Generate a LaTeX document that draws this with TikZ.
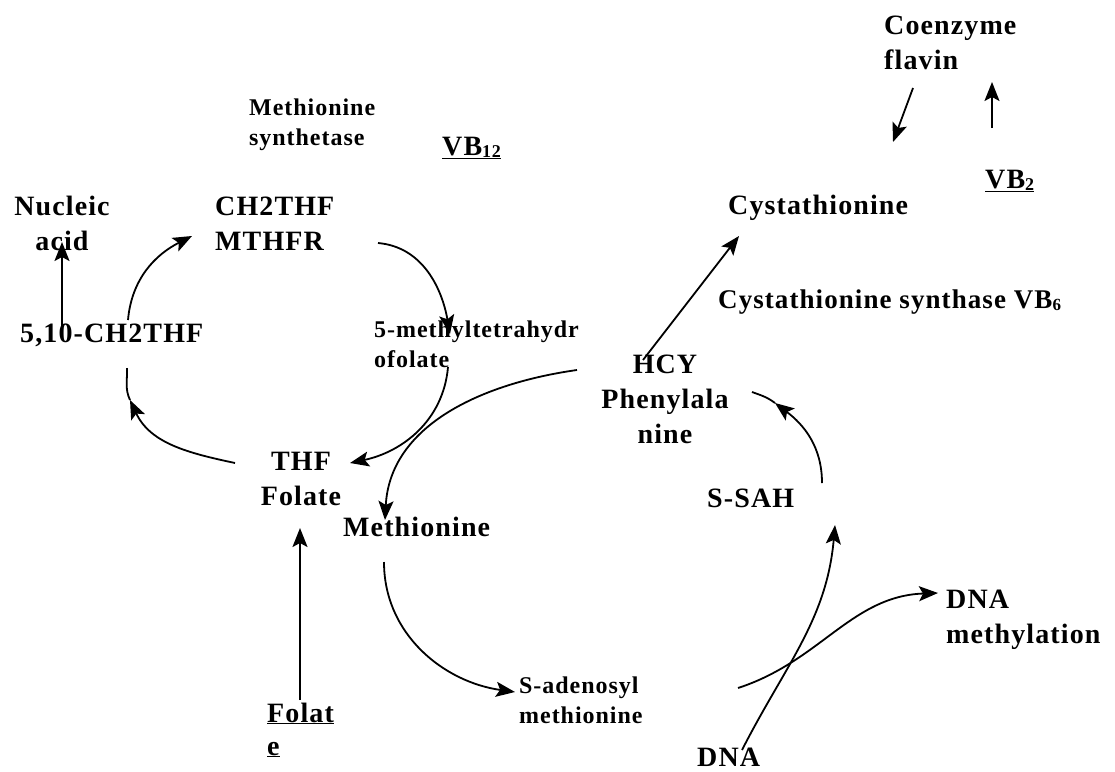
\documentclass[tikz,border=0pt]{standalone}
\usepackage{fontspec}
\setmainfont{Liberation Serif}
\newfontfamily\labfont[LetterSpace=4]{Liberation Serif}
\usetikzlibrary{arrows.meta}
\begin{document}
\begin{tikzpicture}[x=1pt,y=1pt,
  big/.style={font=\labfont\bfseries\fontsize{28}{35}\selectfont, inner sep=0pt},
  mid/.style={font=\labfont\bfseries\fontsize{27}{32}\selectfont, inner sep=0pt},
  sml/.style={font=\labfont\bfseries\fontsize{24}{30}\selectfont, inner sep=0pt},
  link/.style={line width=1.8pt},
  conn/.style={line width=1.8pt, -{Stealth[length=19pt,width=15pt,inset=4pt]}}]
\useasboundingbox (0,0) rectangle (1115,-771);

% ---- labels (multi-line nodes are anchored at the baseline of their last line) ----
\node[big,anchor=base west,align=left] (coenz) at (884,-69) {Coenzyme\\flavin};
\node[sml,anchor=base west,align=left] (msyn) at (249,-145) {Methionine\\synthetase};
\node[big,anchor=base west] (vb12) at (442,-155) {\underline{VB\raisebox{-2pt}{\fontsize{18}{18}\selectfont 12}}};
\node[big,anchor=base,align=center] (nucleic) at (62,-250) {Nucleic\\acid};
\node[big,anchor=base west,align=left] (ch2thf) at (215,-250) {CH2THF\\MTHFR};
\node[big,anchor=base west] (vb2) at (985,-188) {\underline{VB\raisebox{-2pt}{\fontsize{18}{18}\selectfont 2}}};
\node[big,anchor=base west] (cysta) at (728,-214) {Cystathionine};
\node[mid,anchor=base west] (csyn) at (718,-308) {Cystathionine synthase VB\raisebox{-2pt}{\fontsize{17}{17}\selectfont 6}};
\node[big,anchor=base west] (mthf510) at (20,-342) {5,10-CH2THF};
\node[sml,anchor=base west,align=left] (mthf5) at (374,-367) {5-methyltetrahydr\\ofolate};
\node[big,anchor=base,align=center] (hcy) at (665,-443) {HCY\\Phenylala\\nine};
\node[big,anchor=base,align=center] (thf) at (301,-505) {THF\\Folate};
\node[big,anchor=base west] (met) at (343,-536) {Methionine};
\node[big,anchor=base west] (ssah) at (707,-507) {S-SAH};
\node[big,anchor=base west,align=left] (dnam) at (946,-643) {DNA\\methylation};
\node[sml,anchor=base west,align=left] (sam) at (519,-723) {S-adenosyl\\methionine};
\node[big,anchor=base west,align=left] (folat) at (267,-755) {\underline{Folat}\\[-2pt]\underline{e}};
\node[big,anchor=base west] (dna) at (697,-766) {DNA};

% ---- connector end points ----
\coordinate (nucS) at (62,-330);   \coordinate (nucE) at (62,-242);
\coordinate (chS) at (128,-320);   \coordinate (chE) at (192,-236);
\coordinate (mtS) at (378,-243);   \coordinate (mtE) at (450,-334);
\coordinate (ofS) at (448,-367);   \coordinate (thfR) at (350,-463);
\coordinate (hcyW) at (577,-370);  \coordinate (metN) at (385,-520);
\coordinate (thfL) at (235,-463);  \coordinate (lfTip) at (130,-400); \coordinate (lfEnd) at (127,-368);
\coordinate (folS) at (300,-700);  \coordinate (thfS) at (300,-528);
\coordinate (metS) at (384,-562);  \coordinate (samW) at (515,-692);
\coordinate (hcyN) at (643,-360);  \coordinate (cysS) at (739,-236);
\coordinate (ssahE) at (822,-483); \coordinate (hcyTip) at (775,-403); \coordinate (hcyEnd) at (752,-392);
\coordinate (dnaN) at (742,-750);  \coordinate (ssahS) at (835,-525);
\coordinate (samE) at (738,-688);  \coordinate (dnamW) at (938,-593);
\coordinate (coS) at (913,-88);    \coordinate (coE) at (893,-142);
\coordinate (vbS) at (992,-128);   \coordinate (vbE) at (992,-82);

% ---- connectors ----
\draw[conn] (nucS) -- (nucE);
\draw[conn] (chS) to[out=85,in=207] (chE);
\draw[conn] (mtS) to[out=-5,in=100] (mtE);
\draw[conn] (ofS) to[out=-95,in=12] (thfR);
\draw[conn] (hcyW) to[out=188,in=87] (metN);
\draw[conn] (thfL) to[out=168,in=-65] (lfTip);
\draw[link] (lfTip) to[out=115,in=-88] (lfEnd);
\draw[conn] (folS) -- (thfS);
\draw[conn] (metS) to[out=-90,in=172] (samW);
\draw[conn] (hcyN) -- (cysS);
\draw[conn] (ssahE) to[out=90,in=-37] (hcyTip);
\draw[link] (hcyTip) to[out=143,in=-20] (hcyEnd);
\draw[conn] (dnaN) to[out=63,in=-95] (ssahS);
\draw[conn] (samE) to[out=18,in=182] (dnamW);
\draw[conn] (coS) -- (coE);
\draw[conn] (vbS) -- (vbE);
\end{tikzpicture}
\end{document}
